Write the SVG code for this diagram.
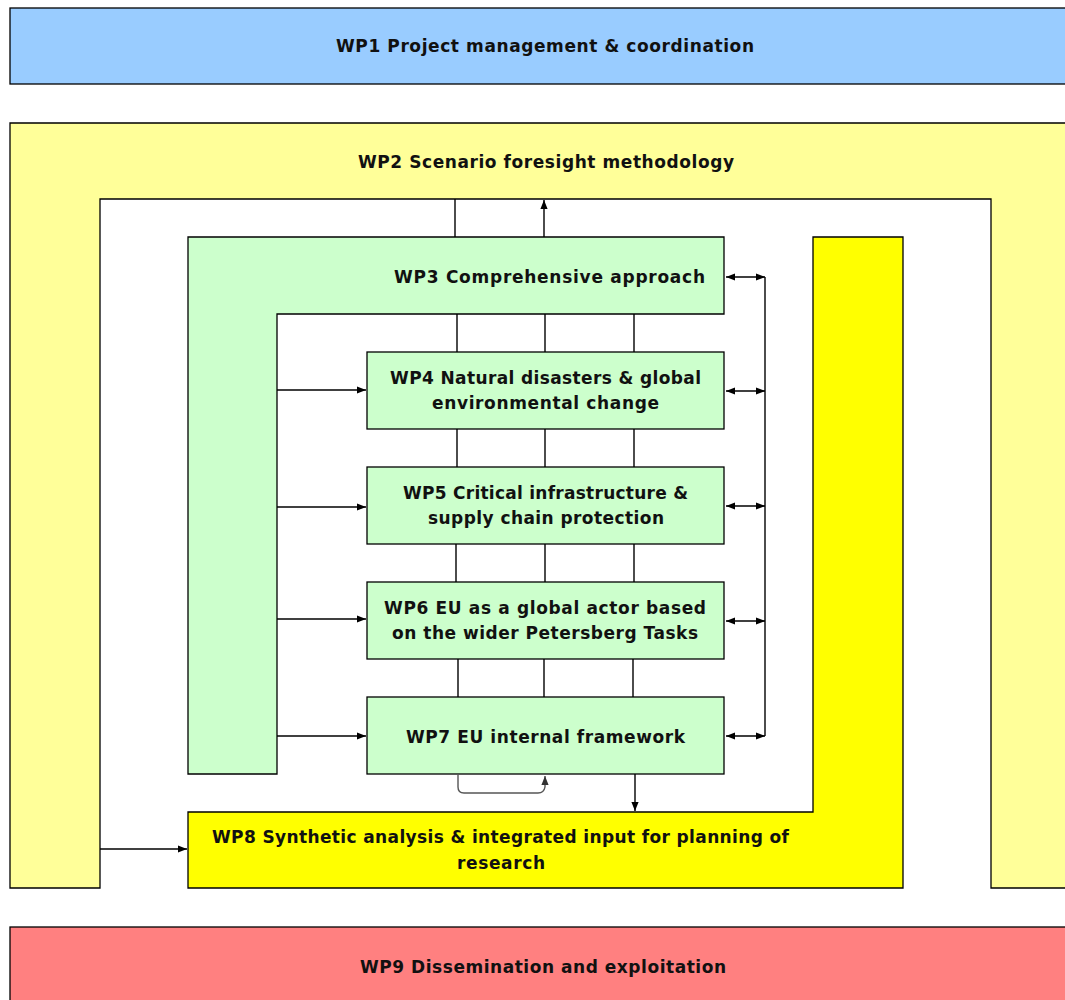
<svg xmlns="http://www.w3.org/2000/svg" width="1065" height="1000" viewBox="0 0 1065 1000">
<defs>
<style>
.box{stroke:#000;stroke-width:1.3}
.t{font-family:"DejaVu Sans",Verdana,sans-serif;font-weight:bold;font-size:17px;fill:#111;text-anchor:middle}
.c{stroke:#000;stroke-width:1.4;fill:none}
</style>
<marker id="ah" viewBox="0 0 10 10" refX="10" refY="5" markerWidth="9" markerHeight="9" markerUnits="userSpaceOnUse" orient="auto-start-reverse">
<path d="M0,1 L10,5 L0,9 Z" fill="#000"/>
</marker>
<marker id="ahg" viewBox="0 0 10 10" refX="10" refY="5" markerWidth="9" markerHeight="9" markerUnits="userSpaceOnUse" orient="auto">
<path d="M0,1 L10,5 L0,9 Z" fill="#333"/>
</marker>
</defs>
<rect width="1065" height="1000" fill="#fff"/>
<g id="wp1">
<rect class="box" x="10" y="8" width="1070" height="76" fill="#99ccff"/>
<text class="t" x="545" y="52" textLength="418" lengthAdjust="spacing">WP1 Project management &amp; coordination</text>
</g>
<g id="wp2">
<path class="box" d="M10,123 H1080 V888 H991 V199 H100 V888 H10 Z" fill="#ffff99"/>
<text class="t" x="546" y="168" textLength="376" lengthAdjust="spacing">WP2 Scenario foresight methodology</text>
</g>
<g id="wp3">
<path class="box" d="M188,237 H724 V314 H277 V774 H188 Z" fill="#ccffcc"/>
<text class="t" x="549.5" y="283" textLength="311" lengthAdjust="spacing">WP3 Comprehensive approach</text>
</g>
<g id="wp4">
<rect class="box" x="367" y="352" width="357" height="77" fill="#ccffcc"/>
<text class="t" x="545.5" y="384" textLength="311" lengthAdjust="spacing">WP4 Natural disasters &amp; global</text>
<text class="t" x="545.5" y="409" textLength="227" lengthAdjust="spacing">environmental change</text>
</g>
<g id="wp5">
<rect class="box" x="367" y="467" width="357" height="77" fill="#ccffcc"/>
<text class="t" x="545.5" y="499" textLength="285" lengthAdjust="spacing">WP5 Critical infrastructure &amp;</text>
<text class="t" x="546" y="524" textLength="236" lengthAdjust="spacing">supply chain protection</text>
</g>
<g id="wp6">
<rect class="box" x="367" y="582" width="357" height="77" fill="#ccffcc"/>
<text class="t" x="545" y="614" textLength="322" lengthAdjust="spacing">WP6 EU as a global actor based</text>
<text class="t" x="545" y="639" textLength="306" lengthAdjust="spacing">on the wider Petersberg Tasks</text>
</g>
<g id="wp7">
<rect class="box" x="367" y="697" width="357" height="77" fill="#ccffcc"/>
<text class="t" x="545.5" y="743" textLength="279" lengthAdjust="spacing">WP7 EU internal framework</text>
</g>
<g id="wp8">
<path class="box" d="M813,237 H903 V888 H188 V812 H813 Z" fill="#ffff00"/>
<text class="t" x="500.5" y="843" textLength="577" lengthAdjust="spacing">WP8 Synthetic analysis &amp; integrated input for planning of</text>
<text class="t" x="501" y="869" textLength="88" lengthAdjust="spacing">research</text>
</g>
<g id="wp9">
<rect class="box" x="10" y="927" width="1070" height="100" fill="#ff8080"/>
<text class="t" x="543" y="973" textLength="366" lengthAdjust="spacing">WP9 Dissemination and exploitation</text>
</g>
<g id="connectors">
<line class="c" x1="455" y1="199" x2="455" y2="237"/>
<line class="c" x1="544" y1="237" x2="544" y2="200" marker-end="url(#ah)"/>
<line class="c" x1="457" y1="314" x2="457" y2="352"/>
<line class="c" x1="545" y1="314" x2="545" y2="352"/>
<line class="c" x1="634" y1="314" x2="634" y2="352"/>
<line class="c" x1="457" y1="429" x2="457" y2="467"/>
<line class="c" x1="545" y1="429" x2="545" y2="467"/>
<line class="c" x1="634" y1="429" x2="634" y2="467"/>
<line class="c" x1="456" y1="544" x2="456" y2="582"/>
<line class="c" x1="545" y1="544" x2="545" y2="582"/>
<line class="c" x1="634" y1="544" x2="634" y2="582"/>
<line class="c" x1="458" y1="659" x2="458" y2="697"/>
<line class="c" x1="544" y1="659" x2="544" y2="697"/>
<line class="c" x1="633" y1="659" x2="633" y2="697"/>
<line class="c" x1="765" y1="277" x2="765" y2="736"/>
<line class="c" x1="726" y1="277" x2="765" y2="277" marker-start="url(#ah)" marker-end="url(#ah)"/>
<line class="c" x1="726" y1="391" x2="765" y2="391" marker-start="url(#ah)" marker-end="url(#ah)"/>
<line class="c" x1="726" y1="506" x2="765" y2="506" marker-start="url(#ah)" marker-end="url(#ah)"/>
<line class="c" x1="726" y1="621" x2="765" y2="621" marker-start="url(#ah)" marker-end="url(#ah)"/>
<line class="c" x1="726" y1="736" x2="765" y2="736" marker-start="url(#ah)" marker-end="url(#ah)"/>
<line class="c" x1="277" y1="390" x2="366" y2="390" marker-end="url(#ah)"/>
<line class="c" x1="277" y1="507" x2="366" y2="507" marker-end="url(#ah)"/>
<line class="c" x1="277" y1="619" x2="366" y2="619" marker-end="url(#ah)"/>
<line class="c" x1="277" y1="736" x2="366" y2="736" marker-end="url(#ah)"/>
<path d="M458,774 V787 Q458,793 464,793 H538 Q544,793 545,787 V776" fill="none" stroke="#555" stroke-width="1.4" marker-end="url(#ahg)"/>
<line class="c" x1="635" y1="774" x2="635" y2="811" marker-end="url(#ah)"/>
<line class="c" x1="100" y1="849" x2="187" y2="849" marker-end="url(#ah)"/>
</g>
</svg>
